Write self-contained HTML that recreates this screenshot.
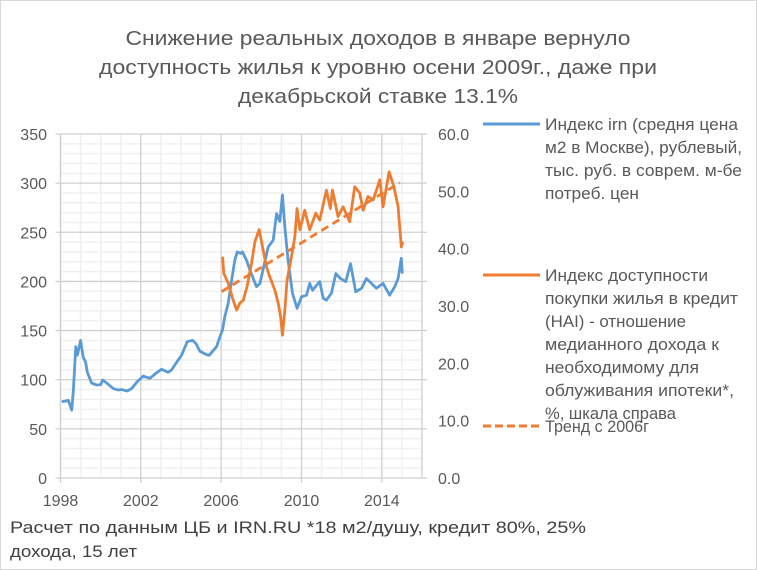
<!DOCTYPE html>
<html><head><meta charset="utf-8">
<style>
html,body{margin:0;padding:0;background:#fff;}
svg{display:block;font-family:"Liberation Sans",sans-serif;}
</style></head>
<body>
<svg id="chart" width="757" height="570" viewBox="0 0 757 570" xmlns="http://www.w3.org/2000/svg">
<rect x="0.5" y="0.5" width="756" height="569" fill="#fff" stroke="#d9d9d9"/>
<g fill="#595959" font-size="20" text-anchor="middle">
<text x="378" y="45" textLength="505" lengthAdjust="spacingAndGlyphs">Снижение реальных доходов в январе вернуло</text>
<text x="378" y="74" textLength="558" lengthAdjust="spacingAndGlyphs">доступность жилья к уровню осени 2009г., даже при</text>
<text x="378" y="103" textLength="280" lengthAdjust="spacingAndGlyphs">декабрьской ставке 13.1%</text>
</g>
<g id="grid"></g>
<g id="axes"></g>
<g id="series"></g>
<g font-size="16.5" fill="#595959">
<g>
<line x1="483" y1="124" x2="540" y2="124" stroke="#5b9bd5" stroke-width="3"/>
<text x="545" y="130" textLength="193" lengthAdjust="spacingAndGlyphs">Индекс irn (средня цена</text>
<text x="545" y="153" textLength="197" lengthAdjust="spacingAndGlyphs">м2 в Москве), рублевый,</text>
<text x="545" y="176" textLength="197" lengthAdjust="spacingAndGlyphs">тыс. руб. в соврем. м-бе</text>
<text x="545" y="199" textLength="94" lengthAdjust="spacingAndGlyphs">потреб. цен</text>
</g>
<g>
<line x1="483" y1="275" x2="540" y2="275" stroke="#ed7d31" stroke-width="3"/>
<text x="545" y="281" textLength="163" lengthAdjust="spacingAndGlyphs">Индекс доступности</text>
<text x="545" y="304" textLength="193" lengthAdjust="spacingAndGlyphs">покупки жилья в кредит</text>
<text x="545" y="327" textLength="141" lengthAdjust="spacingAndGlyphs">(HAI) - отношение</text>
<text x="545" y="350" textLength="174" lengthAdjust="spacingAndGlyphs">медианного дохода к</text>
<text x="545" y="373" textLength="154" lengthAdjust="spacingAndGlyphs">необходимому для</text>
<text x="545" y="396" textLength="189" lengthAdjust="spacingAndGlyphs">облуживания ипотеки*,</text>
<text x="545" y="419" textLength="131" lengthAdjust="spacingAndGlyphs">%, шкала справа</text>
</g>
<g>
<line x1="483" y1="426" x2="540" y2="426" stroke="#ed7d31" stroke-width="3" stroke-dasharray="8,4"/>
<text x="545" y="432" textLength="104" lengthAdjust="spacingAndGlyphs">Тренд с 2006г</text>
</g>
</g>
<g font-size="17" fill="#404040">
<text x="10" y="533" textLength="576" lengthAdjust="spacingAndGlyphs">Расчет по данным ЦБ и IRN.RU *18 м2/душу, кредит 80%, 25%</text>
<text x="10" y="557" textLength="127" lengthAdjust="spacingAndGlyphs">дохода, 15 лет</text>
</g>
</svg>
<script>
const irnYears=[1998.06,1998.39,1998.56,1998.64,1998.76,1998.84,1999.0,1999.13,1999.25,1999.33,1999.55,1999.8,2000.0,2000.1,2000.3,2000.63,2000.88,2001.04,2001.32,2001.54,2001.82,2002.12,2002.45,2002.75,2003.03,2003.36,2003.53,2003.75,2004.03,2004.31,2004.58,2004.74,2004.94,2005.24,2005.4,2005.77,2005.94,2006.07,2006.18,2006.35,2006.52,2006.68,2006.8,2006.96,2007.06,2007.26,2007.43,2007.76,2007.93,2008.34,2008.59,2008.76,2008.92,2009.05,2009.17,2009.33,2009.55,2009.78,2010.0,2010.25,2010.41,2010.55,2010.75,2010.91,2011.08,2011.24,2011.49,2011.71,2011.94,2012.2,2012.44,2012.7,2012.99,2013.23,2013.48,2013.73,2014.06,2014.39,2014.64,2014.81,2014.97,2015.02];
const irnValues=[77.6,79,69,89,133.6,125,140,123,118,108,96.6,94.6,95,99.7,96.6,91,89.5,90,88.5,91,98,103.7,101.4,106.5,110.6,107.5,110,116.7,125,138.7,140,137,129,125.8,124.8,133.6,143.8,151,164,177.7,201,221.7,230,228.6,230,221.7,211.6,194.6,198,235,242,269,261,288,255.6,221.7,188,172.6,184.4,186,198,191,196,199.7,182.8,181,188,208,203,199.7,218,189.5,193,203,198,193,198,186,194.6,203,223.5,208];
const haiYears=[2006.07,2006.13,2006.35,2006.6,2006.77,2006.93,2007.1,2007.29,2007.51,2007.68,2007.89,2008.06,2008.26,2008.42,2008.67,2008.84,2008.96,2009.05,2009.17,2009.28,2009.5,2009.67,2009.78,2009.92,2010.16,2010.41,2010.71,2010.91,2011.24,2011.44,2011.54,2011.82,2012.07,2012.4,2012.65,2012.9,2013.07,2013.31,2013.57,2013.9,2014.06,2014.36,2014.6,2014.81,2014.97,2015.05];
const haiValues=[38.6,35.7,34.0,31.0,29.3,30.5,31.0,33.4,37.4,41.2,43.3,40.3,36.8,35.1,32.8,30.5,28.1,24.9,29.3,34.5,38.6,42.1,47.0,43.3,46.7,43.3,46.2,45.0,50.2,47.0,50.2,45.6,47.3,44.7,50.8,49.7,46.7,49.1,48.5,52.0,47.3,53.4,50.8,47.3,40.3,41.2];
const trendYears=[2006.02,2014.89];
const trendValues=[32.5,51.5];
const leftTicks=[0,50,100,150,200,250,300,350];
const rightTicks=["0.0","10.0","20.0","30.0","40.0","50.0","60.0"];
const xTicks=[1998,2002,2006,2010,2014];

const X0=60.5,X1=422,Y0=478,Y1=134;
const xs=y=>X0+(y-1998)/(2016-1998)*(X1-X0);
const yl=v=>Y0-v/350*(Y0-Y1);
const yr=v=>Y0-v/60*(Y0-Y1);
const NS="http://www.w3.org/2000/svg";
function mk(tag,attrs,parent){const e=document.createElementNS(NS,tag);for(const k in attrs)e.setAttribute(k,attrs[k]);parent.appendChild(e);return e;}
const grid=document.getElementById('grid'),axes=document.getElementById('axes'),series=document.getElementById('series');
for(let v=10;v<=350;v+=10){
  if(v%50===0)continue;
  const l=mk('line',{x1:X0,x2:X1,y1:yl(v),y2:yl(v),stroke:'#f0f0f0','stroke-width':1.5},grid);
  
  
}
for(let y=1999;y<2016;y++){
  if((y-1998)%4===0)continue;
  const l=mk('line',{x1:xs(y),x2:xs(y),y1:Y1,y2:Y0,stroke:'#f0f0f0','stroke-width':1.5},grid);
  
  
}
leftTicks.forEach(v=>{
  const l=mk('line',{x1:X0-5,x2:X1+5,y1:yl(v),y2:yl(v),stroke:'#d0d0d0','stroke-width':1.3},grid);
  
  
  const t=mk('text',{x:47,y:yl(v)+6,'text-anchor':'end','font-size':16,fill:'#595959'},axes);
  t.textContent=v;
  
  
});
rightTicks.forEach((s,i)=>{
  const t=mk('text',{x:438,y:yr(i*10)+6,'font-size':16,fill:'#595959'},axes);
  t.textContent=s;
  
  
});
xTicks.forEach(y=>{
  const l=mk('line',{x1:xs(y),x2:xs(y),y1:Y1,y2:Y0+5,stroke:'#d0d0d0','stroke-width':1.3},grid);
  
  
  const t=mk('text',{x:xs(y),y:506,'text-anchor':'middle','font-size':16,fill:'#595959'},axes);
  t.textContent=y;
  
  
});
const ra=mk('line',{x1:X1,x2:X1,y1:Y1,y2:Y0,stroke:'#d0d0d0','stroke-width':1.3},axes);


const la=mk('line',{x1:X0,x2:X0,y1:Y1,y2:Y0,stroke:'#d0d0d0','stroke-width':1.3},axes);



const p1=mk('polyline',{points:irnYears.map((y,i)=>xs(y)+','+yl(irnValues[i])).join(' '),fill:'none',stroke:'#5b9bd5','stroke-width':2.8,'stroke-linejoin':'round'},series);


const p2=mk('polyline',{points:haiYears.map((y,i)=>xs(y)+','+yr(haiValues[i])).join(' '),fill:'none',stroke:'#ed7d31','stroke-width':2.8,'stroke-linejoin':'round'},series);


const p3=mk('polyline',{points:trendYears.map((y,i)=>xs(y)+','+yr(trendValues[i])).join(' '),fill:'none',stroke:'#ed7d31','stroke-width':2.8,'stroke-dasharray':'8,5'},series);


</script>
</body></html>
